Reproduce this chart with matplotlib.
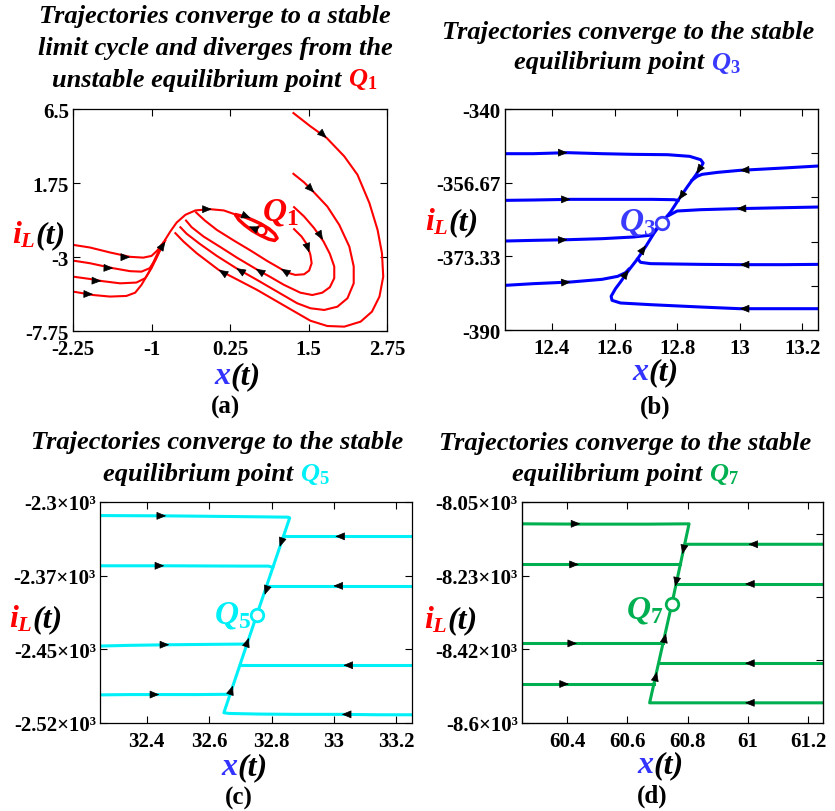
import numpy as np
import matplotlib
matplotlib.use("Agg")
import matplotlib.pyplot as plt
from matplotlib.offsetbox import TextArea, HPacker, AnnotationBbox

plt.rcParams['font.family'] = ['Liberation Serif', 'DejaVu Serif']
plt.rcParams['font.weight'] = 'bold'
plt.rcParams['mathtext.fontset'] = 'custom'
plt.rcParams['mathtext.it'] = 'Liberation Serif:bold:italic'
plt.rcParams['mathtext.rm'] = 'Liberation Serif:bold'
plt.rcParams['mathtext.bf'] = 'Liberation Serif:bold'

# ---------- (a) red, Q1 ----------
a_left_x = [
    [-2.25, -1.98, -1.66, -1.34, -1.13, -1.00, -0.91, -0.81, -0.70, -0.60, -0.46, -0.30, -0.07, 0.15, 0.35],
    [-2.25, -1.98, -1.61, -1.34, -1.16, -1.03, -0.94, -0.86, -0.78],
    [-2.25, -1.98, -1.80, -1.50, -1.24, -1.10, -1.00, -0.91, -0.81],
    [-2.25, -1.93, -1.66, -1.40, -1.26, -1.16, -1.05, -0.94, -0.84],
]
a_left_y = [
    [-2.22, -2.39, -2.71, -2.99, -3.04, -2.93, -2.59, -2.07, -1.36, -0.79, -0.29, -0.01, 0.07, -0.01, -0.29],
    [-3.23, -3.40, -3.72, -3.91, -3.94, -3.72, -3.19, -2.54, -1.94],
    [-4.26, -4.41, -4.54, -4.69, -4.64, -4.36, -3.72, -2.97, -2.07],
    [-5.22, -5.44, -5.54, -5.50, -5.29, -4.79, -4.04, -3.08, -2.22],
]
a_band_x = [
    [1.27, 1.39, 1.48, 1.53, 1.55, 1.51, 1.43, 1.29, 1.16, 1.06, 0.84, 0.58, 0.31, 0.04, -0.15, -0.25, -0.29],
    [1.27, 1.43, 1.59, 1.74, 1.84, 1.91, 1.91, 1.84, 1.72, 1.56, 1.37, 1.11, 0.90, 0.66, 0.36, 0.10, -0.17, -0.36, -0.45],
    [1.26, 1.43, 1.59, 1.80, 1.99, 2.15, 2.22, 2.22, 2.12, 1.96, 1.75, 1.53, 1.32, 1.00, 0.68, 0.35, 0.04, -0.23, -0.44, -0.54],
    [1.26, 1.53, 1.79, 2.07, 2.28, 2.47, 2.60, 2.67, 2.69, 2.63, 2.51, 2.33, 2.07, 1.80, 1.53, 1.16, 0.68, 0.07, -0.28, -0.49, -0.62],
]
a_band_y = [
    [-1.21, -1.69, -2.22, -2.86, -3.40, -3.87, -4.11, -4.15, -4.00, -3.76, -3.25, -2.59, -1.94, -1.26, -0.66, -0.29, -0.14],
    [0.20, -0.40, -1.15, -2.01, -2.80, -3.61, -4.36, -4.94, -5.29, -5.44, -5.29, -4.79, -4.30, -3.76, -3.04, -2.37, -1.69, -1.09, -0.66],
    [2.34, 1.79, 1.14, 0.24, -0.94, -2.33, -3.61, -4.69, -5.65, -6.19, -6.40, -6.29, -5.97, -5.22, -4.47, -3.72, -2.93, -2.16, -1.51, -1.09],
    [6.24, 5.39, 4.64, 3.46, 2.28, 0.46, -1.26, -2.76, -4.26, -5.54, -6.51, -7.15, -7.47, -7.43, -7.09, -6.23, -5.11, -3.83, -2.76, -2.01, -1.47],
]
a_cycle_x = [0.35, 0.47, 0.60, 0.74, 0.87, 0.96, 1.00, 0.96, 0.87, 0.74, 0.60, 0.48, 0.39, 0.35]
a_cycle_y = [-0.29, -0.40, -0.61, -0.87, -1.19, -1.51, -1.79, -1.94, -1.86, -1.62, -1.30, -0.94, -0.61, -0.36]
a_q = (0.75, -1.25)
a_arrows = [
    (-1.34, -3.01, 1, 0), (-1.61, -3.72, 1, -0.15), (-1.80, -4.54, 1, -0.15), (-1.93, -5.39, 1, -0.1),
    (-0.78, -2.01, 0.2, 1.2), (-0.04, 0.07, 1, 0),
    (0.58, -0.51, 0.27, -0.45), (0.55, -1.04, -0.27, 0.45),
    (1.06, -3.76, -0.21, 0.51), (0.66, -3.76, -0.21, 0.51), (0.35, -3.72, -0.21, 0.51), (0.07, -3.83, -0.21, 0.51),
    (1.51, -2.71, 0.05, -0.64), (1.73, -1.90, 0.25, -1.65), (1.59, 1.14, 0.37, -1.54), (1.79, 4.64, 0.53, -1.93),
]

# ---------- (b) blue, Q3 ----------
b_curves_x = [
    [12.25, 12.34, 12.45, 12.56, 12.66, 12.77, 12.84, 12.875, 12.883, 12.875, 12.859, 12.832, 12.805, 12.779, 12.75],
    [13.25, 13.14, 13.00, 12.93, 12.88, 12.864, 12.847],
    [12.25, 12.34, 12.46, 12.61, 12.72, 12.79, 12.803],
    [13.25, 13.14, 12.99, 12.875, 12.80, 12.784, 12.774],
    [12.25, 12.34, 12.45, 12.56, 12.66, 12.71, 12.723, 12.75],
    [13.25, 13.14, 13.00, 12.875, 12.715, 12.683, 12.674],
    [12.25, 12.34, 12.46, 12.56, 12.61, 12.635, 12.645],
    [13.25, 13.14, 13.00, 12.875, 12.715, 12.619, 12.592, 12.589, 12.603, 12.619, 12.645, 12.674, 12.702, 12.725, 12.75],
]
b_curves_y = [
    [-350.11, -350.11, -349.88, -350.11, -350.26, -350.34, -350.71, -351.47, -352.22, -353.28, -355.01, -357.65, -360.44, -363.31, -365.72],
    [-352.90, -353.35, -353.88, -354.33, -354.78, -355.24, -356.14],
    [-360.67, -360.59, -360.44, -360.44, -360.44, -360.52, -360.67],
    [-362.18, -362.33, -362.55, -362.78, -363.08, -363.68, -364.06],
    [-369.87, -369.72, -369.57, -369.34, -368.96, -368.59, -368.06, -365.72],
    [-375.15, -375.22, -375.22, -375.15, -374.99, -374.69, -373.87],
    [-379.90, -379.52, -379.14, -378.54, -377.86, -377.03, -376.28],
    [-385.18, -385.18, -385.18, -384.80, -384.27, -383.89, -383.29, -382.39, -380.65, -379.14, -376.50, -373.87, -370.85, -368.21, -365.72],
]
b_q = (12.75, -365.72)
b_arrows = [
    (12.45, -349.88, 1, 0), (12.46, -360.44, 1, 0), (12.45, -369.57, 1, 2.2), (12.46, -379.14, 1, 4.5),
    (13.00, -353.88, -1, -3.9), (12.99, -362.55, -1, -1.5), (13.00, -375.22, -1, 0), (13.00, -385.18, -1, 0),
    (12.861, -354.63, -0.133, -13.5), (12.805, -360.55, -0.133, -13.5),
    (12.70, -370.85, 0.133, 13.5), (12.645, -376.4, 0.133, 13.5),
]

# ---------- (c) cyan, Q5 ----------
c_curves_x = [
    [32.25, 32.46, 32.69, 32.853, 32.858, 32.752],
    [33.25, 33.09, 32.876, 32.838],
    [32.25, 32.456, 32.70, 32.79, 32.804],
    [33.25, 33.0, 32.876, 32.784],
    [32.25, 32.345, 32.472, 32.61, 32.721],
    [33.25, 33.03, 32.876, 32.698],
    [32.25, 32.345, 32.44, 32.557, 32.667],
    [33.25, 33.142, 33.025, 32.876, 32.759, 32.664, 32.647, 32.752],
]
c_curves_y = [
    [-2313.5, -2313.8, -2314.5, -2315.1, -2315.8, -2412.8],
    [-2334.2, -2334.2, -2334.2, -2334.2],
    [-2363.5, -2363.5, -2363.8, -2363.8, -2365.1],
    [-2383.5, -2383.5, -2383.5, -2383.5],
    [-2443.4, -2442.7, -2442.1, -2441.7, -2441.4],
    [-2462.5, -2462.5, -2462.5, -2462.5],
    [-2492.0, -2491.7, -2491.7, -2491.7, -2491.4],
    [-2511.8, -2511.8, -2511.4, -2511.4, -2511.1, -2510.5, -2509.8, -2412.8],
]
c_q = (32.752, -2412.8)
c_arrows = [
    (32.462, -2313.8, 1, 0), (32.456, -2363.5, 1, 0), (32.472, -2442.1, 1, 0), (32.44, -2491.7, 1, 0),
    (33.004, -2334.2, -1, 0), (32.998, -2383.5, -1, 0), (33.03, -2462.5, -1, 0), (33.025, -2511.4, -1, 0),
    (32.826, -2344.7, -0.106, -97), (32.778, -2392.4, -0.106, -97),
    (32.727, -2435.2, 0.106, 97), (32.676, -2482.8, 0.106, 97),
]

# ---------- (d) green, Q7 ----------
d_curves_x = [
    [60.25, 60.45, 60.67, 60.805, 60.748],
    [61.25, 61.00, 60.80, 60.791],
    [60.25, 60.44, 60.67, 60.775],
    [61.25, 60.99, 60.836, 60.761],
    [60.25, 60.43, 60.56, 60.717],
    [61.25, 60.99, 60.847, 60.704],
    [60.25, 60.41, 60.56, 60.688],
    [61.25, 60.99, 60.836, 60.674, 60.748],
]
d_curves_y = [
    [-8104.3, -8105.1, -8105.1, -8104.3, -8303.2],
    [-8155.2, -8155.2, -8155.2, -8157.7],
    [-8205.4, -8205.4, -8205.4, -8205.4],
    [-8253.9, -8253.9, -8253.9, -8253.9],
    [-8401.9, -8401.9, -8401.9, -8401.9],
    [-8451.2, -8451.2, -8451.2, -8451.2],
    [-8503.0, -8503.0, -8503.0, -8503.0],
    [-8549.8, -8549.8, -8549.8, -8549.8, -8303.2],
]
d_q = (60.748, -8303.2)
d_arrows = [
    (60.444, -8104.3, 1, 0), (60.439, -8205.4, 1, 0), (60.433, -8401.9, 1, 0), (60.406, -8503.0, 1, 0),
    (61.002, -8155.2, -1, 0), (60.991, -8253.9, -1, 0), (60.991, -8451.2, -1, 0), (60.991, -8549.8, -1, 0),
    (60.783, -8179.9, -0.057, -198.9), (60.759, -8260.5, -0.057, -198.9),
    (60.728, -8377.2, 0.074, 246.6), (60.698, -8472.6, 0.074, 246.6),
]

W, H = 835, 812
fig = plt.figure(figsize=(W / 100, H / 100), dpi=100)


def rect(l, t, r, b):
    return [l / W, 1 - b / H, (r - l) / W, (b - t) / H]


def rich(x, y, parts, size):
    kids = [TextArea(s, textprops=dict(color=c, fontsize=size, fontweight='bold',
                                       fontstyle='italic', family='Liberation Serif'))
            for s, c in parts]
    box = HPacker(children=kids, align='baseline', pad=0, sep=0)
    ab = AnnotationBbox(box, (x / W, 1 - y / H), xycoords='figure fraction',
                        frameon=False, box_alignment=(0.5, 0.5), pad=0)
    fig.add_artist(ab)


def add_arrows(ax, arrows):
    for x, y, dx, dy in arrows:
        p = ax.transData.transform((x, y))
        q = ax.transData.transform((x + dx, y + dy))
        d = (q - p) / np.hypot(*(q - p))
        tail = ax.transData.inverted().transform(p - d * 3)
        ax.annotate('', xy=(x, y), xytext=tail,
                    arrowprops=dict(arrowstyle='-|>,head_length=0.6,head_width=0.25',
                                    color='k', lw=0.5, shrinkA=0, shrinkB=0))


def setup(ax, xlim, ylim, xticks, yticks, xlabels, ylabels):
    ax.set_xlim(xlim)
    ax.set_ylim(ylim)
    ax.set_xticks(xticks)
    ax.set_xticklabels(xlabels)
    ax.set_yticks(yticks)
    ax.set_yticklabels(ylabels)
    ax.tick_params(direction='in', length=5, width=0.8, top=True, right=True,
                   labelsize=15, pad=3)
    ax.tick_params(axis='x', pad=6)
    for s in ax.spines.values():
        s.set_linewidth(0.9)


def twin_ticks(ax, ylim, ticks):
    ax.tick_params(right=False)
    t = ax.twinx()
    t.set_ylim(ylim)
    t.set_yticks(ticks)
    t.tick_params(direction='in', length=5, width=0.8, labelright=False)


# panel (a)
ax = fig.add_axes(rect(73, 110, 387, 332))
setup(ax, (-2.25, 2.75), (-7.75, 6.5), [-2.25, -1, 0.25, 1.5, 2.75], [-7.75, -3, 1.75, 6.5],
      ['-2.25', '-1', '0.25', '1.5', '2.75'], ['-7.75', '-3', '1.75', '6.5'])
for xs, ys in zip(a_left_x + a_band_x, a_left_y + a_band_y):
    ax.plot(xs, ys, color='#FF0000', lw=1.5)
ax.plot(a_cycle_x, a_cycle_y, color='#FF0000', lw=2.5)
ax.plot(*a_q, 'o', ms=7, mfc='white', mec='#FF0000', mew=1.8)
add_arrows(ax, a_arrows)
ax.text(0.76, -0.61, r'$Q_{\mathit{1}}$', color='#FF0000', fontsize=24, ha='left', va='baseline')

# panel (b)
ax = fig.add_axes(rect(505, 110, 818, 331))
setup(ax, (12.25, 13.25), (-390, -340), [12.4, 12.6, 12.8, 13, 13.2], [-390, -373.33, -356.67, -340],
      ['12.4', '12.6', '12.8', '13', '13.2'], ['-390', '-373.33', '-356.67', '-340'])
for xs, ys in zip(b_curves_x, b_curves_y):
    ax.plot(xs, ys, color='#0000FF', lw=2.2)
ax.plot(*b_q, 'o', ms=9, mfc='white', mec='#3A3AFF', mew=2)
add_arrows(ax, b_arrows)
ax.text(12.733, -367.3, r'$Q_{\mathit{3}}$', color='#3A3AFF', fontsize=24, ha='right', va='baseline')
twin_ticks(ax, (-390, -340), [-380, -370, -360, -350])

# panel (c)
ax = fig.add_axes(rect(100, 503, 412, 724))
setup(ax, (32.25, 33.25), (-2520, -2300), [32.4, 32.6, 32.8, 33, 33.2], [-2520, -2446.67, -2373.33, -2300],
      ['32.4', '32.6', '32.8', '33', '33.2'], ['-2.52×10³', '-2.45×10³', '-2.37×10³', '-2.3×10³'])
for xs, ys in zip(c_curves_x, c_curves_y):
    ax.plot(xs, ys, color='#00F0F8', lw=2.2)
ax.plot(*c_q, 'o', ms=9, mfc='white', mec='#00F0F8', mew=2)
add_arrows(ax, c_arrows)
ax.text(32.735, -2419.7, r'$Q_{\mathit{5}}$', color='#00F0F8', fontsize=24, ha='right', va='baseline')

# panel (d)
ax = fig.add_axes(rect(522, 503, 823, 724))
setup(ax, (60.25, 61.25), (-8600, -8050), [60.4, 60.6, 60.8, 61, 61.2], [-8600, -8416.67, -8233.33, -8050],
      ['60.4', '60.6', '60.8', '61', '61.2'], ['-8.6×10³', '-8.42×10³', '-8.23×10³', '-8.05×10³'])
for xs, ys in zip(d_curves_x, d_curves_y):
    ax.plot(xs, ys, color='#00B050', lw=2.2)
ax.plot(*d_q, 'o', ms=9, mfc='white', mec='#00B050', mew=2)
add_arrows(ax, d_arrows)
ax.text(60.718, -8338.6, r'$Q_{\mathit{7}}$', color='#00B050', fontsize=24, ha='right', va='baseline')
twin_ticks(ax, (-8600, -8050), [-8444, -8286, -8129])

# titles
k = 'black'
ts = 19
rich(215, 17, [('Trajectories converge to a stable', k)], ts)
rich(215, 48, [('limit cycle and diverges from the', k)], ts)
rich(215, 80, [('unstable equilibrium point ', k), (r'$Q_{\mathit{1}}$', '#FF0000')], ts)
rich(628, 33, [('Trajectories converge to the stable', k)], ts)
rich(627, 63, [('equilibrium point ', k), (r'$Q_{\mathit{3}}$', '#3A3AFF')], ts)
rich(217, 443, [('Trajectories converge to the stable', k)], ts)
rich(216, 475, [('equilibrium point ', k), (r'$Q_{\mathit{5}}$', '#00F0F8')], ts)
rich(625, 444, [('Trajectories converge to the stable', k)], ts)
rich(625, 475, [('equilibrium point ', k), (r'$Q_{\mathit{7}}$', '#00B050')], ts)

# axis labels
for (xx, xy), (yx, yy) in [((237, 377), (39, 235)), ((655, 373), (452, 222)),
                           ((244, 768), (36, 619)), ((660, 766), (451, 620))]:
    rich(xx, xy, [('x', '#3333FF'), ('(t)', k)], 23)
    rich(yx, yy, [(r'$i_{L}$', '#FF0000'), ('(t)', k)], 23)

# panel letters
for s, x, y in [('(a)', 225, 407), ('(b)', 655, 407), ('(c)', 239, 798), ('(d)', 652, 796)]:
    fig.text(x / W, 1 - y / H, s, ha='center', va='center', fontsize=18, fontweight='bold')

fig.savefig('out.png', dpi=100)
